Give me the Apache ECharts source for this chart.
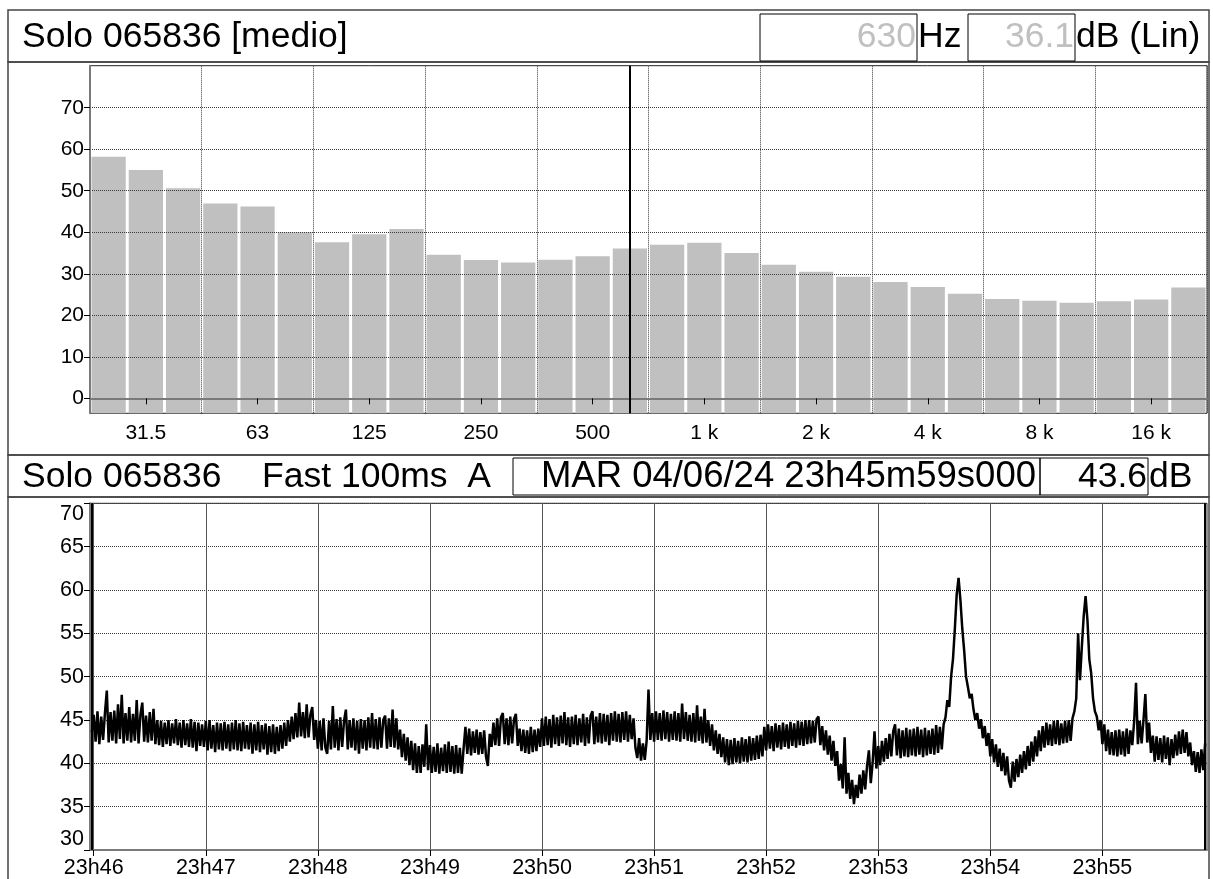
<!DOCTYPE html>
<html>
<head>
<meta charset="utf-8">
<script src="https://cdn.jsdelivr.net/npm/echarts@6/dist/echarts.min.js"></script>
<style>
html, body { margin: 0; padding: 0; background: #fff; }
#chart { width: 1213px; height: 879px; }
</style>
</head>
<body>
<div id="chart"></div>
<script>
// Third-octave spectrum (Leq per band, dB Lin)
const bandLabels = ['25', '31.5', '40', '50', '63', '80', '100', '125', '160', '200',
  '250', '315', '400', '500', '630', '800', '1 k', '1.25 k', '1.6 k', '2 k',
  '2.5 k', '3.15 k', '4 k', '5 k', '6.3 k', '8 k', '10 k', '12.5 k', '16 k', '20 k'];
const bandLevels = [58.2, 55.0, 50.6, 46.9, 46.2, 40.0, 37.6, 39.5, 40.8, 34.6,
  33.3, 32.7, 33.4, 34.2, 36.1, 37.0, 37.5, 35.0, 32.2, 30.5,
  29.3, 28.0, 26.8, 25.2, 23.9, 23.5, 23.0, 23.4, 23.8, 26.7];
const bandTickLabels = ['31.5', '63', '125', '250', '500', '1 k', '2 k', '4 k', '8 k', '16 k'];
const spectrumTicks = [0, 10, 20, 30, 40, 50, 60, 70];
const cursorBand = '630';
const cursorBandLevel = '36.1';

// Time history, Fast 100ms, A-weighted, one reading per second from 23h45m59
const startClock = 23 * 3600 + 45 * 60 + 59;
const timeLevels = [
  43.6, 45.6, 42.5, 46.0, 42.2, 45.4, 42.7, 45.8, 48.4, 42.4,
  45.9, 42.6, 46.1, 42.3, 46.8, 42.8, 47.9, 42.3, 45.8, 42.6,
  46.5, 42.4, 45.7, 42.6, 47.3, 42.3, 45.6, 47.0, 42.5, 45.5,
  42.4, 45.9, 42.6, 46.3, 42.2, 45.0, 42.1, 44.9, 41.9, 44.7,
  42.2, 45.0, 42.0, 44.6, 42.3, 45.1, 42.1, 44.7, 41.8, 45.0,
  42.1, 44.6, 41.9, 45.1, 41.8, 44.8, 41.4, 44.7, 42.0, 44.5,
  41.9, 44.9, 41.5, 45.0, 41.7, 44.4, 41.3, 44.7, 41.6, 44.6,
  41.5, 44.8, 41.7, 44.5, 41.4, 44.7, 41.6, 45.0, 41.5, 44.6,
  41.4, 44.8, 41.7, 44.4, 41.6, 44.7, 41.1, 44.5, 41.5, 44.8,
  41.3, 44.4, 41.6, 44.6, 41.0, 44.3, 41.3, 44.5, 41.1, 44.2,
  41.4, 44.4, 41.7, 44.7, 42.0, 45.0, 42.5, 45.4, 42.8, 45.8,
  43.0, 47.0, 43.1, 45.9, 42.9, 46.8, 43.0, 45.6, 46.5, 42.7,
  45.0, 41.7, 44.9, 41.5, 45.2, 41.8, 41.1, 44.9, 41.6, 46.6,
  41.8, 45.1, 41.5, 45.3, 41.9, 44.9, 46.2, 41.6, 45.0, 41.8,
  45.2, 41.5, 44.9, 41.1, 45.1, 41.7, 45.0, 41.5, 45.3, 41.8,
  45.8, 41.7, 45.1, 41.6, 45.3, 41.8, 45.0, 45.5, 41.7, 45.2,
  41.9, 46.2, 41.8, 45.2, 41.6, 43.9, 40.7, 43.4, 40.3, 43.0,
  39.8, 42.6, 39.2, 42.3, 38.9, 42.0, 38.9, 42.2, 39.6, 44.5,
  39.2, 42.1, 38.9, 41.9, 39.0, 42.3, 38.8, 41.8, 39.1, 42.2,
  38.9, 42.5, 39.0, 42.0, 38.8, 42.1, 38.9, 41.8, 38.8, 41.7,
  44.2, 41.1, 44.0, 40.9, 43.7, 41.2, 43.9, 41.0, 43.6, 41.1,
  43.8, 40.8, 39.7, 43.4, 41.9, 44.7, 42.1, 45.2, 42.0, 45.3,
  45.8, 42.2, 45.2, 42.1, 45.4, 42.3, 45.1, 45.7, 42.0, 44.0,
  41.4, 43.9, 41.2, 43.8, 41.1, 44.2, 41.3, 43.9, 41.4, 44.0,
  41.9, 45.2, 42.0, 45.4, 42.1, 45.1, 41.8, 45.6, 42.2, 45.3,
  42.0, 45.5, 42.3, 45.9, 42.1, 45.3, 41.9, 45.4, 42.2, 45.6,
  42.1, 45.2, 42.4, 45.7, 42.0, 45.3, 42.3, 45.5, 46.0, 42.2,
  45.4, 42.4, 45.8, 42.3, 45.7, 42.5, 45.6, 42.1, 45.8, 42.6,
  46.0, 42.5, 45.7, 42.4, 45.9, 42.7, 46.0, 42.5, 45.6, 42.8,
  45.2, 41.8, 40.6, 42.9, 40.3, 42.3, 40.4, 42.6, 48.5, 42.7,
  45.8, 42.5, 46.0, 42.7, 45.8, 42.6, 46.1, 42.8, 45.9, 42.5,
  45.7, 42.7, 46.0, 42.6, 45.8, 42.5, 46.9, 42.8, 45.9, 42.6,
  45.6, 42.5, 45.8, 42.4, 46.7, 42.6, 45.4, 42.3, 46.3, 42.4,
  45.0, 42.0, 44.5, 41.5, 43.8, 41.1, 43.4, 40.7, 43.0, 40.1,
  42.8, 39.8, 42.7, 39.9, 42.9, 40.1, 42.6, 40.0, 43.0, 40.2,
  42.8, 40.1, 43.1, 40.3, 42.9, 40.4, 43.2, 40.5, 43.3, 40.8,
  44.2, 41.5, 44.5, 41.7, 44.3, 41.4, 44.6, 41.8, 44.4, 41.6,
  44.7, 41.9, 44.5, 41.7, 44.8, 42.0, 44.6, 41.8, 44.9, 42.1,
  44.8, 42.0, 45.0, 42.2, 45.0, 42.3, 44.9, 42.4, 45.1, 45.4,
  42.1, 44.3, 41.5, 43.8, 41.0, 43.2, 40.3, 42.6, 39.7, 41.4,
  38.0, 39.9, 37.1, 43.0, 36.5, 38.9, 35.9, 38.1, 35.3, 37.5,
  36.0, 38.7, 36.5, 39.2, 37.0, 39.7, 41.5, 37.7, 40.1, 43.7,
  39.4, 42.0, 39.8, 42.6, 40.2, 42.9, 40.5, 43.4, 40.8, 43.7,
  44.5, 40.9, 44.0, 40.6, 43.8, 40.8, 44.1, 40.7, 43.9, 40.9,
  44.0, 40.8, 44.2, 41.0, 43.9, 40.7, 44.1, 40.9, 43.8, 41.1,
  44.0, 41.0, 44.4, 41.2, 44.2, 41.6, 44.5, 45.3, 47.3, 46.5,
  50.0, 52.0, 55.5, 59.5, 61.4, 58.8, 55.5, 53.0, 50.0, 48.8,
  47.5, 48.0, 46.2, 45.0, 45.8, 44.0, 45.1, 42.9, 44.3, 42.0,
  43.5, 40.8, 42.8, 40.1, 42.2, 39.6, 41.7, 39.1, 41.2, 38.6,
  40.8, 38.0, 37.2, 40.2, 37.9, 40.5, 38.4, 41.0, 38.9, 41.4,
  39.3, 42.0, 39.7, 42.5, 40.2, 43.1, 40.8, 43.8, 41.4, 44.3,
  41.8, 44.7, 42.1, 44.5, 42.0, 44.9, 42.2, 45.0, 42.1, 44.6,
  42.3, 44.9, 42.4, 45.0, 42.6, 45.2, 46.0, 47.5, 55.0, 49.6,
  53.5, 57.0, 59.3, 56.5, 52.0, 50.4, 47.5, 46.0, 45.4, 43.8,
  45.0, 42.2, 44.5, 41.4, 43.9, 41.0, 43.6, 40.9, 43.8, 40.8,
  43.9, 41.0, 43.7, 40.8, 44.0, 41.1, 43.8, 42.1, 44.8, 49.3,
  42.2, 44.9, 42.3, 45.0, 48.0, 42.4, 44.7, 41.2, 43.2, 40.2,
  43.1, 40.4, 42.9, 40.1, 43.2, 40.5, 43.0, 39.8, 42.8, 40.6,
  43.3, 40.9, 43.7, 41.1, 43.9, 41.2, 43.6, 40.8, 42.4, 39.8,
  41.4, 39.0, 41.3, 38.9, 41.6, 39.2, 42.3
];
const timeTickLabels = ['23h46', '23h47', '23h48', '23h49', '23h50', '23h51', '23h52', '23h53', '23h54', '23h55'];
const historyTicks = [30, 35, 40, 45, 50, 55, 60, 65, 70];
const cursorTimeText = 'MAR 04/06/24 23h45m59s000';
const cursorTimeLevel = '43.6';

// ---------------------------------------------------------------
const FONT = 'Liberation Sans';
const GRID_LINE = { color: '#3a3a3a', width: 1, type: [1, 1] };
const HEADER_FONT = '35.5px "' + FONT + '"';

const clockToSeconds = s => {
  const [h, m] = s.split('h').map(Number);
  return h * 3600 + m * 60;
};
const timeTickValues = timeTickLabels.map(clockToSeconds);
const historyData = timeLevels.map((v, i) => [startClock + i, v]);
const lastClock = startClock + timeLevels.length - 1;

const secondsToClock = v => {
  const h = Math.floor(v / 3600);
  const m = Math.round((v - h * 3600) / 60);
  return h + 'h' + String(m).padStart(2, '0');
};

const chart = echarts.init(document.getElementById('chart'), null, { renderer: 'canvas' });

const headerText = (x, y, text, opts) => ({
  type: 'text', x: x, y: y, silent: true, z: 10,
  style: Object.assign({
    text: text, fill: '#000', font: HEADER_FONT,
    verticalAlign: 'middle', align: 'left'
  }, opts || {})
});
const box = (x, y, w, h, stroke, lw) => ({
  type: 'rect', silent: true, z: 9, shape: { x: x, y: y, width: w, height: h },
  style: { fill: null, stroke: stroke || '#000', lineWidth: lw || 1 }
});

const option = {
  animation: false,
  backgroundColor: '#fff',
  textStyle: { fontFamily: FONT },
  grid: [
    { left: 90, right: 6, top: 65.7, height: 347.6, show: true, borderColor: '#222', borderWidth: 1, backgroundColor: '#fff' },
    { left: 90, right: 6, top: 503.3, height: 346.7, show: true, borderColor: '#222', borderWidth: 1, backgroundColor: '#fff' }
  ],
  xAxis: [
    {
      type: 'category', gridIndex: 0, data: bandLabels, boundaryGap: true, z: 3,
      axisLine: { show: true, lineStyle: { color: '#7a7a7a', width: 2 } },
      axisTick: {
        show: true, alignWithLabel: true, length: 6, lineStyle: { color: '#000' },
        interval: i => bandTickLabels.includes(bandLabels[i])
      },
      axisLabel: {
        show: true, color: '#000', fontSize: 21, fontFamily: FONT, margin: 9,
        interval: i => bandTickLabels.includes(bandLabels[i])
      },
      splitLine: { show: true, lineStyle: GRID_LINE, interval: i => i % 3 === 0 }
    },
    {
      type: 'value', gridIndex: 1, min: startClock - 1, max: startClock + 597, z: 3,
      axisLine: { show: true, lineStyle: { color: '#7a7a7a', width: 2 } },
      axisTick: { show: true, length: 6, lineStyle: { color: '#000' }, customValues: timeTickValues },
      axisLabel: {
        show: true, color: '#000', fontSize: 21.5, fontFamily: FONT, margin: 7,
        customValues: timeTickValues, formatter: secondsToClock
      },
      splitLine: { show: true, lineStyle: { color: '#555', width: 1, type: 'solid' } }
    }
  ],
  yAxis: [
    {
      type: 'value', gridIndex: 0, min: -3.61, max: 80.12, z: 3,
      axisLine: { show: true, lineStyle: { color: '#7a7a7a', width: 2 } },
      axisTick: { show: true, length: 6, lineStyle: { color: '#000' }, customValues: spectrumTicks },
      axisLabel: { show: true, color: '#000', fontSize: 21, fontFamily: FONT, margin: 6, customValues: spectrumTicks },
      splitLine: { show: true, lineStyle: GRID_LINE }
    },
    {
      type: 'value', gridIndex: 1, min: 30, max: 70, interval: 5, z: 3,
      axisLine: { show: true, lineStyle: { color: '#7a7a7a', width: 2 } },
      axisTick: { show: true, length: 6, lineStyle: { color: '#000' } },
      axisLabel: {
        show: true, color: '#000', fontSize: 21.5, fontFamily: FONT, margin: 6,
        verticalAlignMaxLabel: 'top', verticalAlignMinLabel: 'bottom'
      },
      splitLine: { show: true, lineStyle: GRID_LINE }
    }
  ],
  series: [
    {
      // fills each band from the 0 dB line down to the floor of the plot
      type: 'bar', xAxisIndex: 0, yAxisIndex: 0, silent: true,
      data: bandLabels.map(() => -3.61),
      barCategoryGap: '8%', barGap: '-100%',
      itemStyle: { color: '#c0c0c0' }
    },
    {
      type: 'bar', xAxisIndex: 0, yAxisIndex: 0, silent: true,
      data: bandLevels,
      barCategoryGap: '8%', barGap: '-100%',
      itemStyle: { color: '#c0c0c0' },
      markLine: {
        silent: true, symbol: 'none', label: { show: false },
        lineStyle: { color: '#000', width: 2, type: 'solid' },
        data: [{ xAxis: cursorBand }]
      }
    },
    {
      type: 'line', xAxisIndex: 1, yAxisIndex: 1, silent: true,
      data: historyData, showSymbol: false, sampling: null,
      lineStyle: { color: '#000', width: 2.5, join: 'bevel' },
      markLine: {
        silent: true, symbol: 'none', label: { show: false },
        lineStyle: { color: '#000', width: 2, type: 'solid' },
        data: [{ xAxis: startClock }, { xAxis: lastClock }]
      }
    }
  ],
  graphic: [
    // top header
    box(8, 10, 1201, 52, '#444', 1.5),
    box(8, 62, 1201, 393, '#444', 1.5),
    box(760, 14, 157, 47, '#000', 1),
    box(968, 14, 107, 47, '#000', 1),
    headerText(22, 37, 'Solo 065836 [medio]'),
    headerText(916, 37, cursorBand, { align: 'right', fill: '#c0c0c0' }),
    headerText(918, 37, 'Hz'),
    headerText(1074, 37, cursorBandLevel, { align: 'right', fill: '#c0c0c0' }),
    headerText(1076, 37, 'dB (Lin)'),
    // bottom header
    box(8, 455, 1201, 42, '#444', 1.5),
    box(8, 497, 1201, 400, '#444', 1.5),
    box(513, 458, 527, 37, '#000', 1),
    box(1040, 458, 108, 37, '#000', 1),
    headerText(22, 477, 'Solo 065836'),
    headerText(262, 477, 'Fast 100ms  A'),
    headerText(1036, 477, cursorTimeText, { align: 'right', font: '36.5px "' + FONT + '"' }),
    headerText(1147, 477, cursorTimeLevel, { align: 'right' }),
    headerText(1149, 477, 'dB')
  ]
};

chart.setOption(option);
</script>
</body>
</html>
